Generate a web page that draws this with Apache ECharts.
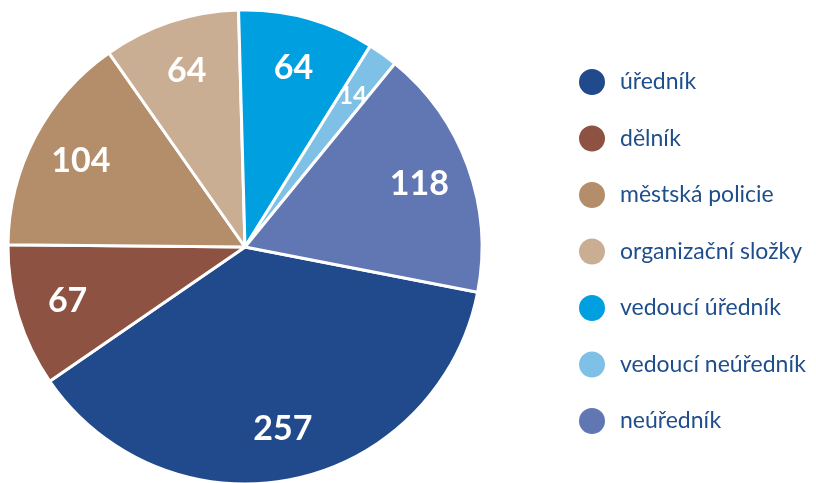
<!DOCTYPE html>
<html>
<head>
<meta charset="utf-8">
<script src="https://cdn.jsdelivr.net/npm/echarts@6/dist/echarts.min.js"></script>
<style>
  html, body { margin: 0; padding: 0; background: #fff; }
  #chart { width: 816px; height: 483px; }
</style>
</head>
<body>
<div id="chart"></div>
<script>
// kategorie a hodnoty
const categories = ["úředník", "dělník", "městská policie", "organizační složky", "vedoucí úředník", "vedoucí neúředník", "neúředník"];
const values = [257, 67, 104, 64, 64, 14, 118];
const colors = ["#214A8C", "#8D5241", "#B48D6A", "#CAAE94", "#00A0E0", "#7FC1E6", "#6177B3"];

const chart = echarts.init(document.getElementById("chart"));

const pieData = categories.map((name, i) => ({
  name: name,
  value: values[i],
  itemStyle: { color: colors[i] },
}));

const center = [245, 247];
const R = 237;

chart.setOption({
  animation: false,
  legend: {
    orient: "vertical",
    left: 577,
    top: 67,
    padding: 0,
    icon: "circle",
    itemWidth: 28,
    itemHeight: 28,
    itemGap: 26.5,
    selectedMode: false,
    textStyle: {
      fontFamily: "Lato",
      fontSize: 23,
      lineHeight: 28,
      color: "#1F4E8C",
      padding: [0, 0, 0, 9],
    },
    data: categories,
  },
  series: [
    {
      // vlastní koláč
      type: "pie",
      center: center,
      radius: [0, R],
      startAngle: -11,
      clockwise: true,
      label: { show: false },
      labelLine: { show: false },
      itemStyle: { borderColor: "#fff", borderWidth: 3 },
      emphasis: { disabled: true },
      data: pieData,
    },
    {
      // průhledná vrstva jen pro popisky (posunuté k okraji)
      type: "pie",
      center: center,
      radius: [R * 0.54, R],
      startAngle: -11,
      clockwise: true,
      silent: true,
      legendHoverLink: false,
      itemStyle: { color: "transparent", borderWidth: 0 },
      label: {
        show: true,
        position: "inside",
        formatter: "{c}",
        color: "#fff",
        fontFamily: "Lato",
        fontWeight: "bold",
        fontSize: 34,
      },
      labelLine: { show: false },
      emphasis: { disabled: true },
      data: categories.map((name, i) => ({
        name: name + " ",
        value: values[i],
        // malý dílek má menší popisek
        label: values[i] < 30 ? { fontSize: 24 } : undefined,
      })),
    },
  ],
});
</script>
</body>
</html>
